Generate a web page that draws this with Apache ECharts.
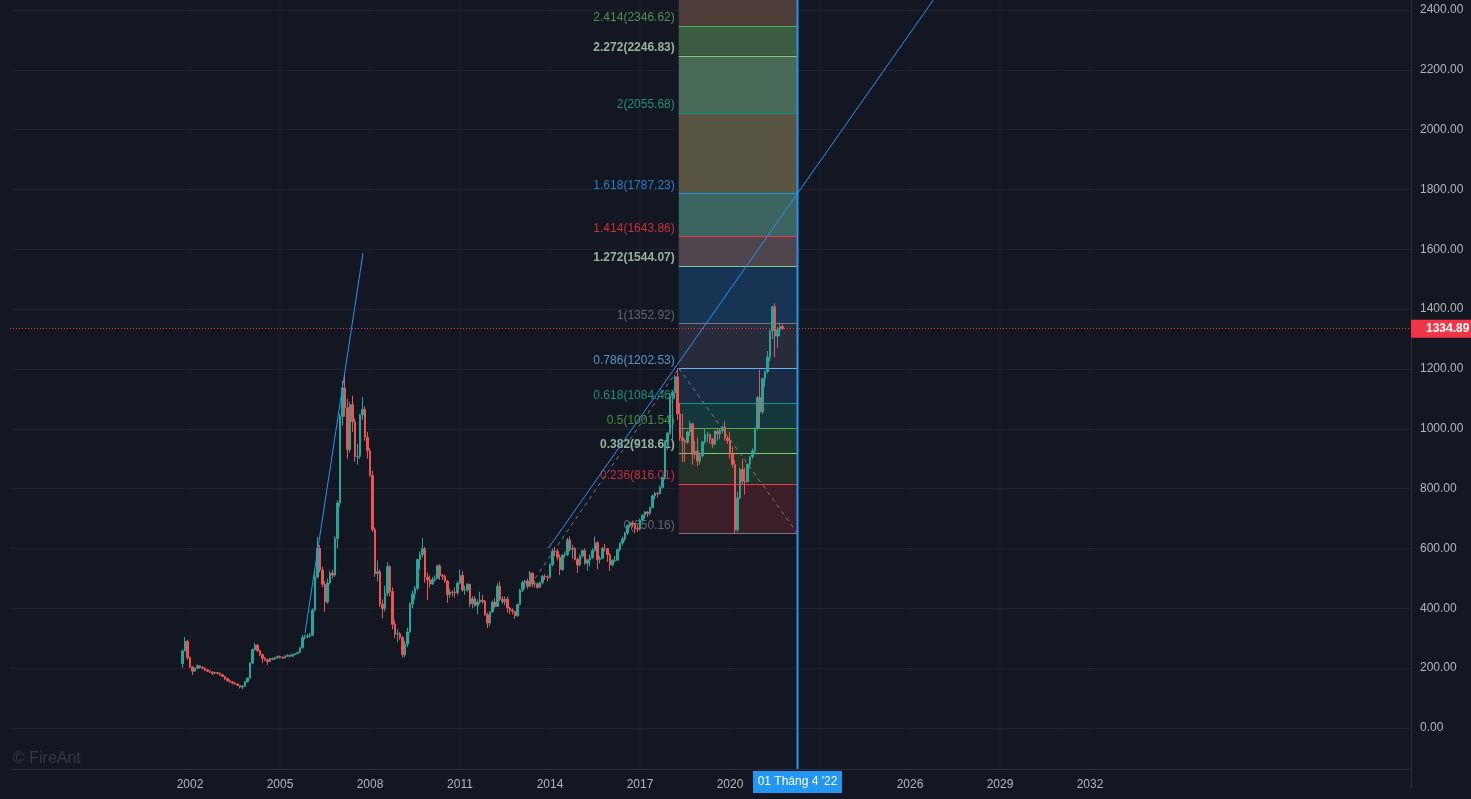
<!DOCTYPE html>
<html>
<head>
<meta charset="utf-8">
<script src="https://cdn.jsdelivr.net/npm/echarts@6/dist/echarts.min.js"></script>
<style>
html,body{margin:0;padding:0;background:#131722;}
#chart{width:1471px;height:799px;}
</style>
</head>
<body>
<div id="chart"></div>
<script>
// ---------- DATA ----------
// Monthly candles, first candle = Oct 2001
const firstMonth = [2001, 10];
const openVals = [
  215,258,290,
  235,204,190,199,208,203,200,194,190,186,183,185,
  183,178,172,165,158,154,150,147,142,137,140,155,
  167,217,262,277,258,245,233,228,222,232,230,235,
  239,236,234,240,243,240,246,249,252,268,302,305,
  307,310,394,505,600,528,480,421,485,518,511,633,
  752,1041,1137,1071,930,1081,1024,907,908,1046,1065,972,
  927,844,663,516,522,414,399,451,539,456,347,314,
  315,303,245,280,321,414,448,467,563,580,599,504,
  494,481,496,500,542,509,507,491,446,454,453,452,
  484,510,461,461,480,415,432,410,421,427,423,379,
  351,388,421,406,474,430,422,431,401,392,389,375,
  413,460,486,491,474,518,481,482,470,486,507,505,
  504,546,591,590,571,530,578,580,629,597,600,563,
  545,575,593,551,562,569,593,619,563,567,600,599,
  579,545,560,561,596,618,632,652,677,686,680,666,
  665,695,711,722,717,737,776,784,783,804,837,955,
  984,1110,1121,1174,1050,970,960,955,989,1017,914,926,
  892,910,956,980,980,966,949,992,983,994,1006,969,
  961,915,881,662,769,864,825,824,881,906,926,1003,
  1104,1056,1168,1191,1239,1328,1408,1310,1331,1342
];
const highVals = [
  262,304,295,
  238,206,201,212,210,205,202,197,193,190,188,187,
  185,180,174,168,162,156,153,149,144,142,157,168,
  220,265,284,280,262,248,237,232,235,236,238,242,
  242,239,242,246,245,248,250,254,272,311,312,315,
  318,400,530,638,612,540,490,500,525,530,640,760,
  1050,1160,1180,1100,1090,1110,1035,950,1050,1106,1075,990,
  935,860,670,560,530,430,475,555,545,470,360,330,
  320,306,290,335,420,460,475,565,590,635,605,520,
  510,505,510,545,548,515,512,495,465,460,470,490,
  530,525,475,485,482,440,440,430,455,445,428,385,
  390,425,435,484,490,440,440,440,405,400,392,415,
  465,492,495,500,525,520,492,486,490,512,514,510,
  550,600,605,598,580,580,590,635,640,612,605,570,
  580,596,600,565,580,600,640,625,575,605,615,602,
  585,565,575,600,620,640,655,680,690,690,685,680,
  700,715,725,725,740,780,790,790,810,840,960,990,
  1120,1130,1180,1202.53,1085,1050,965,995,1025,1020,960,970,
  915,960,1000,990,985,970,995,1000,1000,1010,1025,975,
  990,940,895,790,870,900,870,885,910,935,1005,1110,
  1197,1170,1195,1260,1330,1410,1420,1340,1355,1350
];
const lowVals = [
  202,255,228,
  200,177,188,197,199,196,190,187,184,177,180,179,
  175,170,160,155,151,146,145,140,132,130,138,152,
  165,214,258,254,240,217,224,210,220,226,228,232,
  232,230,232,237,236,238,243,246,250,265,296,300,
  302,308,390,500,520,470,388,415,480,500,505,600,
  740,1010,1040,900,920,990,890,880,900,1030,960,900,
  840,655,505,490,405,366,390,440,440,330,300,286,
  295,235,236,270,318,400,430,460,530,570,485,428,
  470,478,490,498,495,495,485,418,435,440,435,445,
  480,455,445,455,405,400,405,380,415,415,375,334,
  340,385,400,405,425,415,410,385,380,380,365,372,
  410,455,465,465,470,470,470,465,468,480,495,490,
  500,540,575,560,511,525,570,575,590,565,560,518,
  540,570,545,526,540,565,590,530,550,565,590,555,
  525,540,555,558,590,610,625,645,670,670,650,655,
  660,690,700,705,710,735,765,770,780,800,830,930,
  980,965,1100,1030,960,888,890,950,975,880,900,875,
  880,905,950,955,950,935,945,960,965,985,960,950,
  900,870,650.16,655,765,815,780,820,870,900,920,995,
  1000,1050,1140,1185,1225,1300,1240,1270,1310,1330
];
const closeVals = [
  258,290,235,
  204,190,199,208,203,200,194,190,186,183,185,183,
  178,172,165,158,154,150,147,142,137,140,155,167,
  217,262,277,258,245,233,228,222,232,230,235,239,
  236,234,240,243,240,246,249,252,268,302,305,307,
  310,394,505,600,528,480,421,485,518,511,633,752,
  1041,1137,1071,930,1081,1024,907,908,1046,1065,972,927,
  844,663,516,522,414,399,451,539,456,347,314,315,
  303,245,280,321,414,448,467,563,580,599,504,494,
  481,496,500,542,509,507,491,446,454,453,452,484,
  510,461,461,480,415,432,410,421,427,423,379,351,
  388,421,406,474,430,422,431,401,392,389,375,413,
  460,486,491,474,518,481,482,470,486,507,505,504,
  546,591,590,571,530,578,580,629,597,600,563,545,
  575,593,551,562,569,593,619,563,567,600,599,579,
  545,560,561,596,618,632,652,677,686,680,666,665,
  695,711,722,717,737,776,784,783,804,837,955,984,
  1110,1121,1174,1050,970,960,955,989,1017,914,926,892,
  910,956,980,980,966,949,992,983,994,1006,969,961,
  915,881,662,769,864,825,824,881,906,926,1003,1104,
  1056,1168,1191,1239,1328,1408,1310,1331,1342,1334.89
];

// x values are months counted from Jan 2002
const yearTickMonths = [0,36,72,108,144,180,216,252,288,324,360]; // 2002 ... 2032
const lastPrice = 1334.89;
const lastPriceLabel = '1334.89';

// Trend-based Fibonacci extension
const fibRatios = [0, 0.236, 0.382, 0.5, 0.618, 0.786, 1, 1.272, 1.414, 1.618, 2, 2.272, 2.414, 2.618];
const fibValues = [650.16, 816.01, 918.61, 1001.54, 1084.46, 1202.53, 1352.92, 1544.07, 1643.86, 1787.23, 2055.68, 2246.83, 2346.62, 2489.98];
const fibStartX = 195.5;   // Apr 2018
const fibEndX = 243;       // 01 Apr 2022
const fibLegAB = [[138, 499.77], [195.5, 1202.53]];
const fibLegBC = [[195.5, 1202.53], [243, 650.16]];

// Blue trend lines
const trendLine1 = [[46, 317.5], [69.2, 1587.6]];
const trendLine2 = [[143.4, 601.6], [297.3, 2433]];

const dateMarkerX = 243;
const dateMarkerText = "01 Tháng 4 '22";
const dateMarkerY = -180.5;

// axis ranges
const yMin = -200, yMax = 2433.4, xAxisLevel = -137;

// ---------- STYLES ----------
const fibLineColors = ['#787b86','#f23645','#81c784','#4caf50','#089981','#64b5f6','#787b86','#81c784','#f23645','#2196f3','#089981','#81c784','#4caf50','#f23645'];
const fibLabelColors = ['#787b86','#f23645','#b5dbb6','#4caf50','#22ab94','#64b5f6','#787b86','#b5dbb6','#f23645','#2f96f0','#22ab94','#b5dbb6','#5fb062','#f23645'];
const fibLabelBold = [false,false,true,false,false,false,false,true,false,false,false,true,false,false];
const fibZoneColors = [null,'#3c1e28','#243228','#1e3a2c','#14383c','#1a2c44','#282c3a','#183454','#4e444c','#3c645f','#585642','#486a56','#3c5d44','#4e3e3a'];

// ---------- BUILD ----------
const startIdx = (firstMonth[0] - 2002) * 12 + (firstMonth[1] - 1);
const candleData = openVals.map((o, i) => [startIdx + i, o, closeVals[i], lowVals[i], highVals[i]]);

const zoneData = [];
for (let i = 1; i < fibValues.length; i++) {
  zoneData.push([
    { coord: [fibStartX, fibValues[i - 1]], itemStyle: { color: fibZoneColors[i], opacity: 1 } },
    { coord: [fibEndX, fibValues[i]] }
  ]);
}
const levelLines = fibValues.map((v, i) => [
  { coord: [fibStartX, v], lineStyle: { color: fibLineColors[i], width: 1, type: 'solid' } },
  { coord: [fibEndX, v] }
]);
const levelLabels = fibValues.map((v, i) => ({
  value: [fibStartX, v],
  label: {
    color: fibLabelColors[i],
    fontWeight: fibLabelBold[i] ? 'bold' : 'normal',
    formatter: String(fibRatios[i]) + '(' + v.toFixed(2) + ')'
  }
}));
const vgridData = [];
yearTickMonths.forEach(m => { vgridData.push([m, xAxisLevel], [m, yMax], [m, '-']); });

const chart = echarts.init(document.getElementById('chart'), null, { renderer: 'canvas' });
const font = '"Liberation Sans", Arial, sans-serif';

chart.setOption({
  animation: false,
  backgroundColor: '#131722',
  textStyle: { fontFamily: font },
  grid: { left: 10, right: 60, top: 0, bottom: 11.2 },
  xAxis: {
    type: 'value',
    min: -72, max: 488.4, interval: 36,
    offset: -18.8,
    axisLine: { show: true, onZero: false, lineStyle: { color: '#2a2e39', width: 1 } },
    axisTick: { show: false },
    splitLine: { show: false },
    axisLabel: {
      color: '#b2b5be', fontSize: 12, margin: 10, fontFamily: font,
      formatter: v => (v >= 0 && v <= 360 && v % 12 === 0) ? String(2002 + v / 12) : ''
    }
  },
  yAxis: {
    type: 'value', position: 'right',
    min: yMin, max: yMax, interval: 200,
    axisLine: { show: true, onZero: false, lineStyle: { color: '#2a2e39', width: 1 } },
    axisTick: { show: false },
    splitLine: { show: true, showMinLine: false, showMaxLine: false, lineStyle: { color: '#1e222d', width: 1 } },
    axisLabel: {
      color: '#b2b5be', fontSize: 12, margin: 9, fontFamily: font,
      showMaxLabel: false,
      formatter: v => (v < 0 || v > 2400) ? '' : v.toFixed(2)
    }
  },
  graphic: [{
    type: 'text', left: 13, top: 751,
    style: { text: '© FireAnt', fill: '#363a46', font: '16px ' + font }
  }],
  series: [
    {
      name: 'vgrid', type: 'line', z: 0, silent: true, clip: false, symbol: 'none', connectNulls: false,
      lineStyle: { color: '#1e222d', width: 1 },
      data: vgridData
    },
    {
      name: 'fibZones', type: 'line', data: [], z: 1, silent: true, clip: false,
      markArea: { z: 1, silent: true, label: { show: false }, data: zoneData }
    },
    {
      name: 'fibLevels', type: 'line', data: [], z: 2, silent: true, clip: false,
      markLine: { z: 2, silent: true, symbol: 'none', label: { show: false }, data: levelLines }
    },
    {
      name: 'fibLabels', type: 'scatter', z: 2, silent: true, symbolSize: 0,
      label: { show: true, position: 'left', distance: 4, offset: [0, -8], fontSize: 12, fontFamily: font },
      data: levelLabels
    },
    {
      name: 'candles', type: 'candlestick', z: 3, barWidth: 2,
      itemStyle: { color: '#26a69a', color0: '#ef5350', borderColor: '#26a69a', borderColor0: '#ef5350', borderWidth: 1 },
      data: candleData
    },
    {
      name: 'trend1', type: 'line', z: 4, symbol: 'none', silent: true,
      lineStyle: { color: '#2196f3', width: 1 }, data: trendLine1
    },
    {
      name: 'trend2', type: 'line', z: 4, symbol: 'none', silent: true,
      lineStyle: { color: '#2196f3', width: 1 }, data: trendLine2
    },
    {
      name: 'legAB', type: 'line', z: 4, symbol: 'none', silent: true,
      lineStyle: { color: '#787b86', width: 1, type: [4, 4] }, data: fibLegAB
    },
    {
      name: 'legBC', type: 'line', z: 4, symbol: 'none', silent: true,
      lineStyle: { color: '#787b86', width: 1, type: [4, 4] }, data: fibLegBC
    },
    {
      name: 'dateLine', type: 'line', z: 5, symbol: 'none', silent: true, clip: false,
      lineStyle: { color: '#2196f3', width: 2 },
      data: [[dateMarkerX, xAxisLevel], [dateMarkerX, yMax]]
    },
    {
      name: 'priceLine', type: 'line', data: [], z: 7, silent: true, clip: false,
      markLine: {
        z: 7, silent: true, symbol: 'none',
        lineStyle: { color: '#f23645', width: 1, type: [1, 2] },
        label: {
          show: true, position: 'end', distance: 0, formatter: lastPriceLabel,
          backgroundColor: '#f23645', color: '#ffffff', fontWeight: 'bold', fontSize: 12,
          padding: [3, 8, 3, 15], fontFamily: font
        },
        data: [{ yAxis: lastPrice }]
      }
    },
    {
      name: 'dateBox', type: 'line', data: [], z: 8, silent: true, clip: false,
      markPoint: {
        z: 8, silent: true, symbol: 'rect', symbolSize: [89, 22],
        itemStyle: { color: '#2196f3' },
        label: { show: true, position: 'inside', color: '#ffffff', fontSize: 12, fontFamily: font, formatter: dateMarkerText },
        data: [{ coord: [dateMarkerX, dateMarkerY] }]
      }
    }
  ]
});
</script>
</body>
</html>
